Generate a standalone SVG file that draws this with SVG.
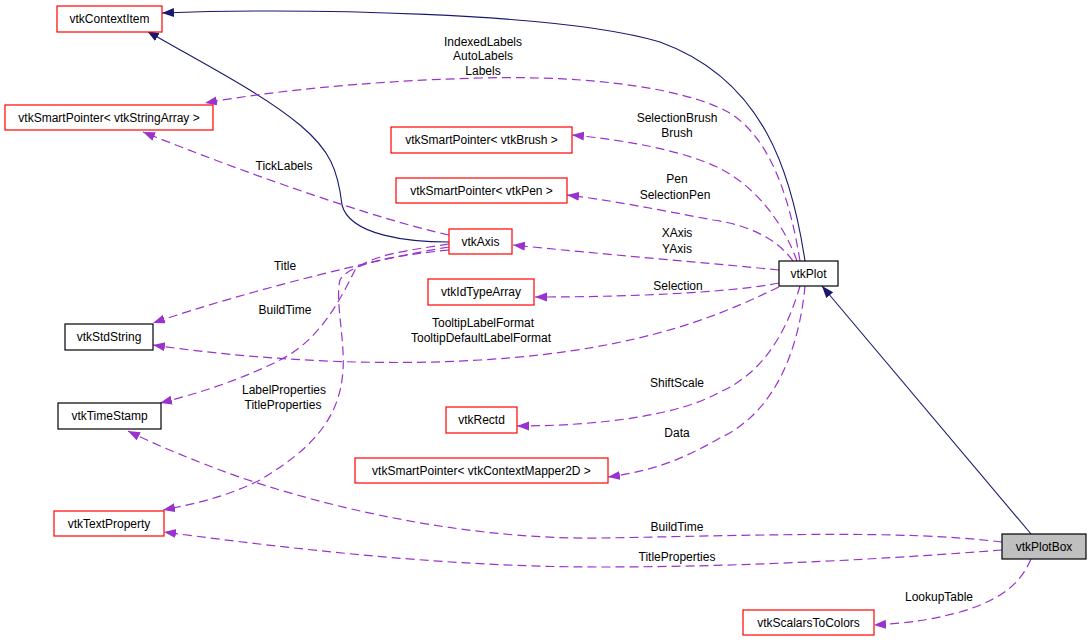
<svg xmlns="http://www.w3.org/2000/svg" width="1091" height="642" viewBox="0 0 1091 642">
<style>
text{font-family:"Liberation Sans",Arial,sans-serif;font-size:12px;fill:#000;text-anchor:middle}
.n rect{fill:#fff;stroke-width:1.2}
.red rect{stroke:#ff0000}
.blk rect{stroke:#000}
.inh{fill:none;stroke:#191970;stroke-width:1.1}
.use{fill:none;stroke:#9a32cd;stroke-width:1.2;stroke-dasharray:9,5}
</style>
<defs>
<marker id="an" markerUnits="userSpaceOnUse" markerWidth="14" markerHeight="10" refX="12" refY="4.5" orient="auto"><path d="M0,0 L12,4.5 L0,9 z" fill="#191970"/></marker>
<marker id="ap" markerUnits="userSpaceOnUse" markerWidth="14" markerHeight="10" refX="12" refY="4.5" orient="auto"><path d="M0,0 L12,4.5 L0,9 z" fill="#9a32cd"/></marker>
</defs>
<rect width="1091" height="642" fill="#fff"/>
<g id="edges">
<path class="inh" marker-end="url(#an)" d="M805,261 C792,175 765,80 660,42 C560,12 300,8 162,13"/>
<path class="inh" marker-end="url(#an)" d="M449,242 C410,242 350,236 342,205 C338,170 330,150 300,125 C260,92 200,62 147,31"/>
<path class="inh" marker-end="url(#an)" d="M1031,534 L822,286"/>
<path class="use" marker-end="url(#ap)" d="M800,261 C790,200 770,130 720,108 C680,90 600,75 480,78 C360,81 260,93 205,103"/>
<path class="use" marker-end="url(#ap)" d="M797,261 C785,228 760,188 717,167 C680,150 625,140 572,135"/>
<path class="use" marker-end="url(#ap)" d="M793,261 C778,240 750,225 713,220 C660,210 610,200 567,195"/>
<path class="use" marker-end="url(#ap)" d="M779,270 C720,264 600,254 513,245"/>
<path class="use" marker-end="url(#ap)" d="M779,283 C740,291 650,297 535,297"/>
<path class="use" marker-end="url(#ap)" d="M779,287 C730,310 650,350 480,360 C350,368 220,355 153,345"/>
<path class="use" marker-end="url(#ap)" d="M449,235 C380,220 250,175 143,132"/>
<path class="use" marker-end="url(#ap)" d="M449,247 C380,258 250,290 153,323"/>
<path class="use" marker-end="url(#ap)" d="M449,244 C410,250 370,255 355,270 C340,300 320,340 280,360 C240,380 200,393 160,403"/>
<path class="use" marker-end="url(#ap)" d="M449,250 C400,255 350,262 340,280 C335,300 345,340 343,370 C340,420 310,450 260,480 C230,495 200,503 163,510"/>
<path class="use" marker-end="url(#ap)" d="M800,286 C790,320 770,370 720,392 C680,415 600,426 517,426"/>
<path class="use" marker-end="url(#ap)" d="M805,286 C800,340 780,410 720,438 C690,455 660,470 608,477"/>
<path class="use" marker-end="url(#ap)" d="M1002,542 C900,530 780,535 600,538 C450,540 300,500 220,470 C180,455 150,442 128,431"/>
<path class="use" marker-end="url(#ap)" d="M1002,550 C900,558 750,567 600,567 C450,567 300,550 164,532"/>
<path class="use" marker-end="url(#ap)" d="M1031,559 C1020,585 1000,600 960,612 C930,620 910,623 874,625"/>
<text x="483" y="46">IndexedLabels</text>
<text x="483" y="60">AutoLabels</text>
<text x="483" y="75">Labels</text>
<text x="677" y="122">SelectionBrush</text>
<text x="677" y="137">Brush</text>
<text x="677" y="183">Pen</text>
<text x="675" y="199">SelectionPen</text>
<text x="677" y="237">XAxis</text>
<text x="677" y="253">YAxis</text>
<text x="678" y="290">Selection</text>
<text x="483" y="327">TooltipLabelFormat</text>
<text x="481" y="342">TooltipDefaultLabelFormat</text>
<text x="284" y="170">TickLabels</text>
<text x="285" y="270">Title</text>
<text x="285" y="314">BuildTime</text>
<text x="284" y="394">LabelProperties</text>
<text x="283" y="409">TitleProperties</text>
<text x="677" y="387">ShiftScale</text>
<text x="677" y="437">Data</text>
<text x="677" y="531">BuildTime</text>
<text x="677" y="561">TitleProperties</text>
<text x="939" y="601">LookupTable</text>
</g>
<g id="vtkContextItem" class="n red"><rect x="57" y="6" width="105" height="26"/><text x="109.5" y="23">vtkContextItem</text></g>
<g id="vtkStringArray" class="n red"><rect x="5" y="105" width="208" height="25"/><text x="109" y="122">vtkSmartPointer&lt; vtkStringArray &gt;</text></g>
<g id="vtkBrush" class="n red"><rect x="391" y="127" width="181" height="26"/><text x="481.5" y="144">vtkSmartPointer&lt; vtkBrush &gt;</text></g>
<g id="vtkPen" class="n red"><rect x="396" y="178" width="171" height="25"/><text x="481.5" y="195">vtkSmartPointer&lt; vtkPen &gt;</text></g>
<g id="vtkAxis" class="n red"><rect x="449" y="229" width="63" height="25"/><text x="480.5" y="246">vtkAxis</text></g>
<g id="vtkIdTypeArray" class="n red"><rect x="428" y="279" width="106" height="26"/><text x="481" y="296">vtkIdTypeArray</text></g>
<g id="vtkPlot" class="n blk"><rect x="779" y="261" width="59" height="25"/><text x="808.5" y="278">vtkPlot</text></g>
<g id="vtkStdString" class="n blk"><rect x="65" y="324" width="88" height="26"/><text x="109" y="341">vtkStdString</text></g>
<g id="vtkTimeStamp" class="n blk"><rect x="58" y="403" width="103" height="26"/><text x="109.5" y="420">vtkTimeStamp</text></g>
<g id="vtkTextProperty" class="n red"><rect x="54" y="511" width="110" height="25"/><text x="109" y="528">vtkTextProperty</text></g>
<g id="vtkRectd" class="n red"><rect x="446" y="407" width="71" height="26"/><text x="481.5" y="424">vtkRectd</text></g>
<g id="vtkContextMapper2D" class="n red"><rect x="355" y="458" width="253" height="25"/><text x="481.5" y="475">vtkSmartPointer&lt; vtkContextMapper2D &gt;</text></g>
<g id="vtkPlotBox" class="n blk"><rect x="1002" y="534" width="84" height="25" style="fill:#bfbfbf"/><text x="1044" y="551">vtkPlotBox</text></g>
<g id="vtkScalarsToColors" class="n red"><rect x="743" y="610" width="131" height="25"/><text x="808.5" y="627">vtkScalarsToColors</text></g>
</svg>
